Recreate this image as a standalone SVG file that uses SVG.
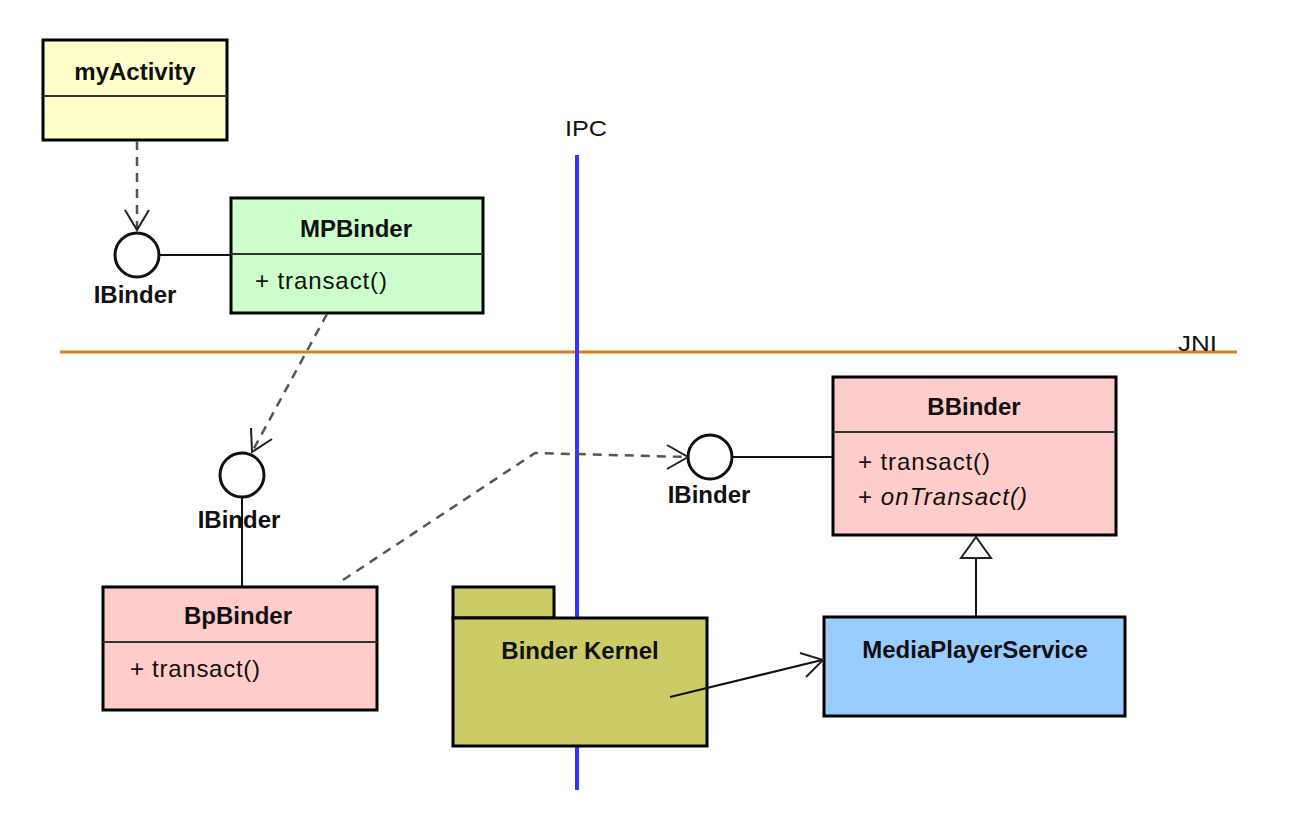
<svg xmlns="http://www.w3.org/2000/svg" width="1300" height="820" viewBox="0 0 1300 820">
<defs>
<style>
.box{stroke:#000;stroke-width:3}
.div{stroke:#333;stroke-width:2}
.name{font-family:"Liberation Sans",Arial,sans-serif;font-weight:bold;font-size:24px;fill:#111;text-anchor:middle}
.op{font-family:"Liberation Sans",Arial,sans-serif;font-size:24px;fill:#111}
.lbl{font-family:"Liberation Sans",Arial,sans-serif;font-size:22px;fill:#111}
.iface{fill:#fff;stroke:#111;stroke-width:3}
.solid{stroke:#111;stroke-width:2;fill:none}
.dash{stroke:#555;stroke-width:2.5;fill:none;stroke-dasharray:9 7}
.head{stroke:#222;stroke-width:2;fill:none}
</style>
</defs>
<rect width="1300" height="820" fill="#fff"/>

<g id="separators">
<line x1="60" y1="352" x2="1237" y2="352" stroke="#E07B18" stroke-width="3"/>
<line x1="577" y1="155" x2="577" y2="790" stroke="#3434FF" stroke-width="4"/>
<text class="lbl" x="565" y="136" textLength="42" lengthAdjust="spacingAndGlyphs">IPC</text>
<text class="lbl" x="1178" y="351" textLength="39" lengthAdjust="spacingAndGlyphs">JNI</text>
</g>

<g id="myActivity">
<rect class="box" x="43" y="40" width="184" height="100" fill="#FFFFCC"/>
<line class="div" x1="43" y1="96" x2="227" y2="96"/>
<text class="name" x="135" y="80">myActivity</text>
</g>

<g id="IBinder1">
<circle class="iface" cx="137" cy="255" r="22"/>
<text class="name" x="135" y="303">IBinder</text>
</g>

<g id="MPBinder">
<rect class="box" x="231" y="198" width="252" height="115" fill="#CCFFCC"/>
<line class="div" x1="231" y1="254" x2="483" y2="254"/>
<text class="name" x="356" y="237">MPBinder</text>
<text class="op" x="255" y="289" textLength="132" lengthAdjust="spacing">+ transact()</text>
</g>

<g id="IBinder2">
<circle class="iface" cx="242" cy="475" r="22"/>
<text class="name" x="239" y="528">IBinder</text>
</g>

<g id="BpBinder">
<rect class="box" x="103" y="587" width="274" height="123" fill="#FFCCCC"/>
<line class="div" x1="103" y1="642" x2="377" y2="642"/>
<text class="name" x="238" y="624">BpBinder</text>
<text class="op" x="130" y="677" textLength="130" lengthAdjust="spacing">+ transact()</text>
</g>

<g id="IBinder3">
<circle class="iface" cx="710" cy="457" r="22"/>
<text class="name" x="709" y="503">IBinder</text>
</g>

<g id="BBinder">
<rect class="box" x="833" y="377" width="283" height="158" fill="#FFCCCC"/>
<line class="div" x1="833" y1="432" x2="1116" y2="432"/>
<text class="name" x="974" y="415">BBinder</text>
<text class="op" x="858" y="470" textLength="132" lengthAdjust="spacing">+ transact()</text>
<text class="op" x="858" y="505" textLength="169" lengthAdjust="spacing"><tspan>+ </tspan><tspan font-style="italic">onTransact()</tspan></text>
</g>

<g id="MediaPlayerService">
<rect class="box" x="824" y="617" width="301" height="99" fill="#99CCFF"/>
<text class="name" x="975" y="658">MediaPlayerService</text>
</g>

<g id="BinderKernel">
<rect class="box" x="453" y="587" width="101" height="31" fill="#CCCC66"/>
<rect class="box" x="453" y="618" width="254" height="128" fill="#CCCC66"/>
<text class="name" x="580" y="659">Binder Kernel</text>
</g>

<g id="connectors">
<line class="dash" x1="137" y1="141" x2="137" y2="229"/>
<polyline class="head" points="125,210 137,230 149,210"/>
<line class="solid" x1="159" y1="255" x2="230" y2="255"/>
<line class="dash" x1="327" y1="314" x2="252" y2="452"/>
<polyline class="head" points="251,428 252,452 272,439"/>
<line class="solid" x1="242" y1="497" x2="242" y2="586"/>
<polyline class="dash" points="343,580 535,453 687,457"/>
<polyline class="head" points="667,445 688,457 667,469"/>
<line class="solid" x1="732" y1="457" x2="832" y2="457"/>
<line class="solid" x1="976" y1="558" x2="976" y2="616"/>
<polygon points="976,537 961,558 991,558" fill="#fff" stroke="#222" stroke-width="2"/>
<line class="solid" x1="670" y1="697" x2="822" y2="660"/>
<polyline class="head" points="800,653 823,660 806,677"/>
</g>
</svg>
